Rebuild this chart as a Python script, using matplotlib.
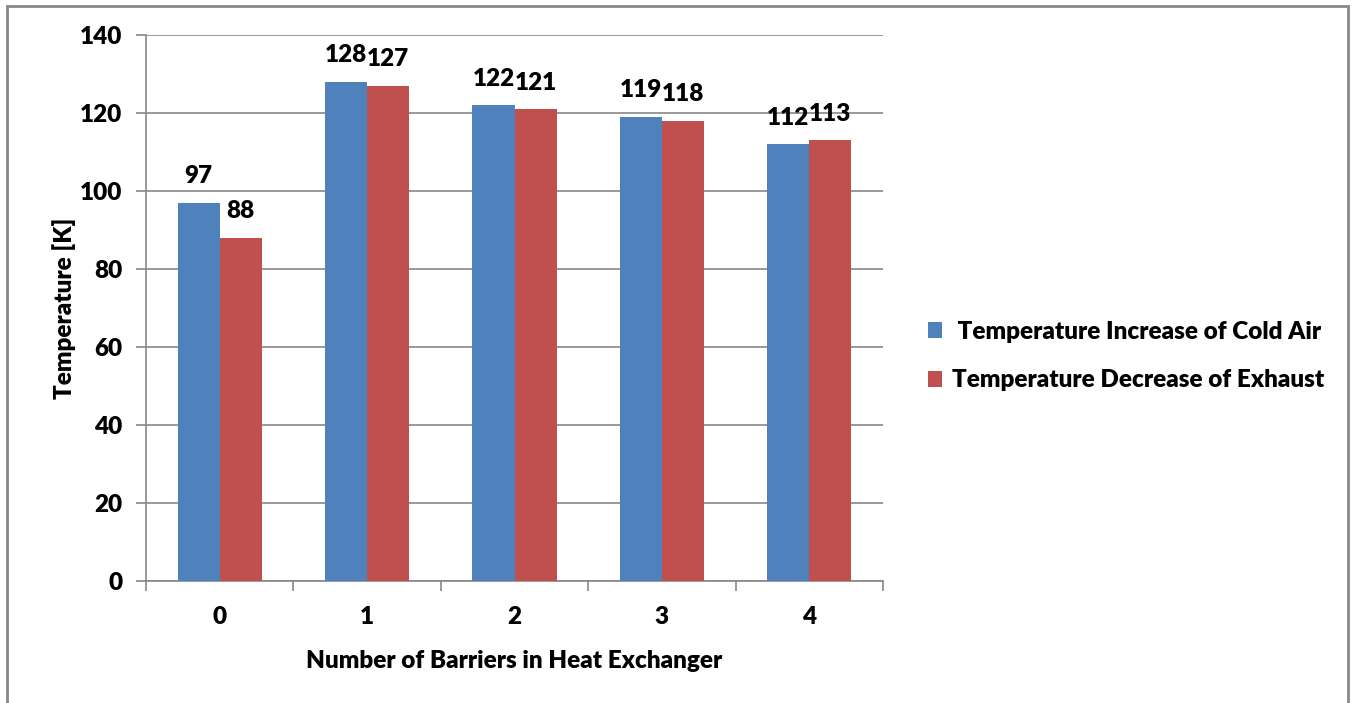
import numpy as np
import matplotlib.pyplot as plt
from matplotlib.patches import Rectangle

# barrier counts and measured temperature changes
barriers = ['0', '1', '2', '3', '4']
cold_air_increase = [97, 128, 122, 119, 112]
exhaust_decrease = [88, 127, 121, 118, 113]

plt.rcParams['font.family'] = ['Lato', 'DejaVu Sans']
plt.rcParams['font.weight'] = 'heavy'

fig = plt.figure(figsize=(13.52, 7.03), dpi=100)
ax = fig.add_axes([146/1352, 1 - 581/703, (883 - 146)/1352, (581 - 35)/703])

x = np.arange(len(barriers))
w = 0.285
b1 = ax.bar(x - w/2, cold_air_increase, w, color='#4f81bd', label=' Temperature Increase of Cold Air', zorder=3)
b2 = ax.bar(x + w/2, exhaust_decrease, w, color='#c0504d', label='Temperature Decrease of Exhaust', zorder=3)

for bars, vals in [(b1, cold_air_increase), (b2, exhaust_decrease)]:
    for r, v in zip(bars, vals):
        ax.text(r.get_x() + r.get_width()/2, v + 4, str(v), ha='center', va='bottom',
                fontsize=17.5, fontweight='heavy')

ax.set_xlim(-0.5, len(barriers) - 0.5)
ax.set_ylim(0, 140)
ax.set_yticks(range(0, 141, 20))
ax.set_xticks(x)
ax.set_xticklabels(barriers)
ax.set_xticks(np.arange(-0.5, len(barriers)), minor=True)
ax.tick_params(axis='x', which='major', length=0, pad=18, labelsize=17.5)
ax.tick_params(axis='x', which='minor', length=7, color='#888888', width=1.2)
ax.tick_params(axis='y', length=7, color='#888888', width=1.2, pad=10, labelsize=17.5)
ax.grid(axis='y', color='#888888', linewidth=1.2, zorder=0)

for s in ['top', 'right']:
    ax.spines[s].set_visible(False)
for s in ['left', 'bottom']:
    ax.spines[s].set_color('#888888')
    ax.spines[s].set_linewidth(1.2)

ax.set_xlabel('Number of Barriers in Heat Exchanger', fontsize=17.5, fontweight='heavy', labelpad=16)
ax.set_ylabel('Temperature [K]', fontsize=17.5, fontweight='heavy', labelpad=3)

fig.legend(loc='center left', bbox_to_anchor=(906/1352, 1 - 356/703), frameon=False,
           handlelength=0.6, handleheight=0.6, handletextpad=0.4,
           labelspacing=1.1, prop={'weight': 'heavy', 'size': 17.5})

# outer chart frame
fig.patches.append(Rectangle((7/1352, -0.05), (1348 - 7)/1352, 1.05 - 6/703,
                             transform=fig.transFigure, fill=False,
                             edgecolor='#888888', linewidth=2))

fig.savefig('out.png', dpi=100)
